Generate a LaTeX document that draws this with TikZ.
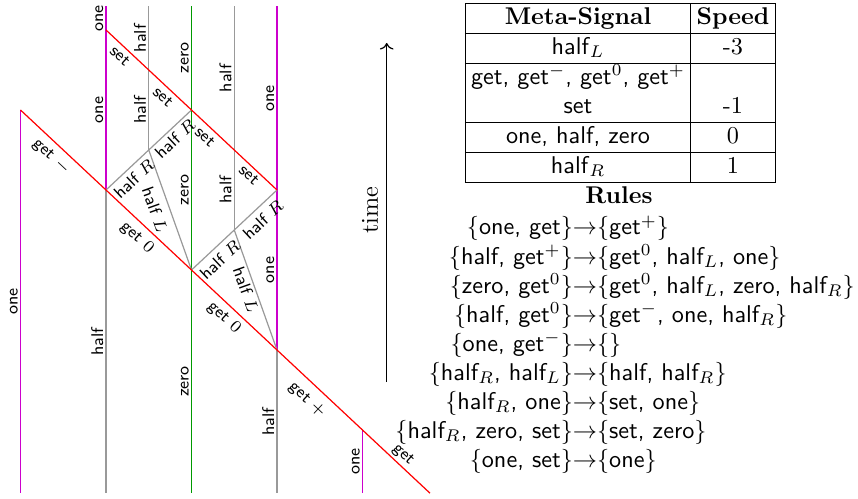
\documentclass[tikz,border=0pt]{standalone}
\usepackage{array}
\usetikzlibrary{arrows.meta}
\definecolor{sigmag}{rgb}{0.8,0,0.8}
\definecolor{siggreen}{rgb}{0,0.6,0}
\definecolor{siggray}{gray}{0.6}
\begin{document}
\begin{tikzpicture}[x=0.4132pt,y=-0.4132pt,
  sig/.style={line width=0.5pt},
  onel/.style={sig,draw=sigmag},
  halfl/.style={sig,draw=siggray},
  zerol/.style={sig,draw=siggreen},
  getl/.style={sig,draw=red},
  vlab/.style={font=\sffamily\scriptsize, rotate=90, anchor=base, inner sep=0pt},
  slab/.style={font=\sffamily\scriptsize, inner sep=0pt},
  dn/.style={slab, rotate=-43.1},
  up/.style={slab, rotate=43.1},
  steep/.style={slab, rotate=-70.4}]
\useasboundingbox (0,0) rectangle (858,499);
% points of the space-time diagram
\coordinate (At) at (20.5,110);
\coordinate (Ab) at (20.5,493);
\coordinate (Bt) at (106,6.5);
\coordinate (s0) at (106,30);
\coordinate (g1) at (106,190);
\coordinate (Bb) at (106,493);
\coordinate (Bht) at (148.75,6.5);
\coordinate (s1) at (148.75,70);
\coordinate (h1) at (148.75,150);
\coordinate (Ct) at (191.5,6.5);
\coordinate (s2) at (191.5,110);
\coordinate (g2) at (191.5,270);
\coordinate (Cb) at (191.5,493);
\coordinate (Cht) at (234.25,6.5);
\coordinate (s3) at (234.25,150);
\coordinate (h2) at (234.25,230);
\coordinate (Dt) at (277,6.5);
\coordinate (s4) at (277,190);
\coordinate (g3) at (277,350);
\coordinate (Db) at (277,493);
\coordinate (g4) at (362.5,430);
\coordinate (Eb) at (362.5,493);
\coordinate (g5) at (430,493.2);
% vertical signals
\draw[onel] (At) -- (Ab);
\draw[onel] (Bt) -- (g1);
\draw[halfl] (g1) -- (Bb);
\draw[halfl] (Bht) -- (h1);
\draw[zerol] (Ct) -- (Cb);
\draw[halfl] (Cht) -- (h2);
\draw[onel] (Dt) -- (g3);
\draw[halfl] (g3) -- (Db);
\draw[onel] (g4) -- (Eb);
% half_R and half_L
\draw[halfl] (g1) -- (h1) -- (s2);
\draw[halfl] (h1) -- (g2);
\draw[halfl] (g2) -- (h2) -- (s4);
\draw[halfl] (h2) -- (g3);
% get and set
\draw[getl] (At) -- (g1) -- (g2) -- (g3) -- (g4) -- (g5);
\draw[getl] (s0) -- (s1) -- (s2) -- (s3) -- (s4);
% vertical labels
\node[vlab] (lA) at (17.5,301.5) {one};
\node[vlab] (lB1) at (103,18.25) {one};
\node[vlab] (lB2) at (103,110) {one};
\node[vlab] (lB3) at (103,341.5) {half};
\node[vlab] (lBh1) at (145.75,38.25) {half};
\node[vlab] (lBh2) at (145.75,110) {half};
\node[vlab] (lC1) at (188.5,58.25) {zero};
\node[vlab] (lC2) at (188.5,190) {zero};
\node[vlab] (lC3) at (188.5,381.5) {zero};
\node[vlab] (lCh1) at (231.25,78.25) {half};
\node[vlab] (lCh2) at (231.25,190) {half};
\node[vlab] (lD1) at (274,98.25) {one};
\node[vlab] (lD2) at (274,270) {one};
\node[vlab] (lD3) at (274,421.5) {half};
\node[vlab] (lE) at (359.5,461.5) {one};
% sloped labels
\node[dn] (ls1) at (120,56) {set};
\node[dn] (ls2) at (163,97) {set};
\node[dn] (ls3) at (205,137) {set};
\node[dn] (ls4) at (249,175) {set};
\node[dn] (lg1) at (51,157) {get $-$};
\node[dn] (lg2) at (137,238) {get $0$};
\node[dn] (lg3) at (224,318) {get $0$};
\node[dn] (lg4) at (307,400) {get $+$};
\node[dn] (lg5) at (403,455) {get};
\node[up] (lr1) at (134,179) {half $R$};
\node[up] (lr2) at (175,139) {half $R$};
\node[up] (lr3) at (220,260) {half $R$};
\node[up] (lr4) at (263,220) {half $R$};
\node[steep] (ll1) at (155,210) {half $L$};
\node[steep] (ll2) at (246,290) {half $L$};
% time axis
\coordinate (t0) at (386.7,382);
\coordinate (t1) at (386.7,43);
\draw[line width=0.5pt,->] (t0) -- (t1);
\node[rotate=90, inner sep=0pt] (time) at (370,210) {time};
% table
\node[anchor=north west, inner sep=0pt] (tab) at (464.3,2.5) {%
  \setlength{\tabcolsep}{2.2pt}%
  \begin{tabular}{|c|c|}\hline
  \textbf{Meta-Signal} & \textbf{Speed}\\\hline
  \textsf{half}$_L$ & -3\\\hline
  \textsf{get, get$^-$, get$^0$, get$^+$} & \\
  \textsf{set} & -1\\\hline
  \textsf{one, half, zero} & 0\\\hline
  \textsf{half}$_R$ & 1\\\hline
  \end{tabular}};
\node[anchor=base, inner sep=0pt, font=\bfseries] (rulestitle) at (619,204) {Rules};
\node[anchor=base west, inner sep=0pt, font=\sffamily] (rules) at (395,235) {%
  \setlength{\tabcolsep}{0pt}%
  \begin{tabular}[t]{@{}r@{$\rightarrow$}l@{}}
  $\{$one, get$\}$ & $\{$get$^+\}$\\
  $\{$half, get$^+\}$ & $\{$get$^0$, half$_L$, one$\}$\\
  $\{$zero, get$^0\}$ & $\{$get$^0$, half$_L$, zero, half$_R\}$\\
  $\{$half, get$^0\}$ & $\{$get$^-$, one, half$_R\}$\\
  $\{$one, get$^-\}$ & $\{\}$\\
  $\{$half$_R$, half$_L\}$ & $\{$half, half$_R\}$\\
  $\{$half$_R$, one$\}$ & $\{$set, one$\}$\\
  $\{$half$_R$, zero, set$\}$ & $\{$set, zero$\}$\\
  $\{$one, set$\}$ & $\{$one$\}$
  \end{tabular}};
\end{tikzpicture}
\end{document}
